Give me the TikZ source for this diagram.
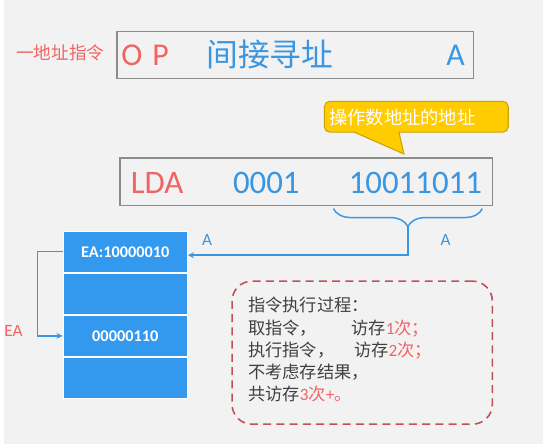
\documentclass[tikz,border=0pt]{standalone}
\usepackage{fontspec}
\setmainfont{Carlito}
\newfontfamily\cjk{Noto Sans CJK SC}
\usetikzlibrary{positioning,decorations.pathreplacing}
\definecolor{hred}{HTML}{F06464}
\definecolor{hblue}{HTML}{3A96E0}
\definecolor{mblue}{HTML}{3399EE}
\definecolor{hgray}{HTML}{404040}
\definecolor{bgray}{HTML}{8C8C8C}
\definecolor{dred}{HTML}{C0505A}
\definecolor{hyel}{HTML}{FFCC00}
\tikzset{
  instr/.style={draw=bgray,line width=1pt,minimum height=35.5pt},
  cell/.style={fill=mblue,draw=white,line width=1pt,minimum width=93.75pt,minimum height=30.75pt,
    text=white,font=\fontsize{12.3}{14}\selectfont\bfseries},
  link/.style={hblue,line width=1pt,->},
  big/.style={font=\fontsize{24.8}{28}\selectfont},
}
\begin{document}
\begin{tikzpicture}[>=stealth,x=0.75pt,y=-0.75pt]
	\fill[gray!10] (0,0) rectangle (543,447);
	% one-address instruction
	\node[hred,font=\fontsize{13.3}{16}\selectfont] (kind) at (57,53) {\cjk 一地址指令};
	\node[instr,minimum width=269pt] (fmt) at (293.5,55.5) {};
	\node[hred,font=\fontsize{24}{28}\selectfont] (op) at (142.5,56) {O\hspace{2pt} P};
	\node[hblue,font=\fontsize{24}{28}\selectfont] (mode) at (268,55) {\cjk 间接寻址};
	\node[hblue,font=\fontsize{24}{28}\selectfont] (fa) at (455,56) {A};
	% callout
	\filldraw[fill=hyel,draw=hyel!80!black,line width=0.8pt] (353,133) [rounded corners=4pt] -- (323,133) -- (323,102)
		-- (508,102) -- (508,133) [sharp corners] -- (398,133) -- (403,155) -- cycle;
	\node[white,font=\fontsize{13.8}{16}\selectfont] (tip) at (401.5,118) {\cjk 操作数地址的地址};
	% LDA instruction
	\node[instr,minimum width=281pt,minimum height=36pt] (lda) at (304.5,183) {};
	\node[hred,big] (opc) at (154.5,184) {LDA};
	\node[hblue,big] (reg) at (264.5,184) {0001};
	\node[hblue,big] (addr) at (414.5,184) {10011011};
	\draw[hblue,line width=1.1pt,decorate,decoration={brace,mirror,amplitude=13.5pt}] (332,210) -- (482,210);
	\coordinate (btip) at (407,228);
	\node[hblue,font=\fontsize{13}{15}\selectfont] (la) at (445,242) {A};
	% memory
	\node[cell] (m1) at (122.5,253.5) {EA:10000010};
	\node[cell,below=0pt of m1] (m2) {};
	\node[cell,below=0pt of m2] (m3) {00000110};
	\node[cell,below=0pt of m3] (m4) {};
	\draw[link] (btip) |- ([yshift=-2.5pt]m1.east);
	\node[hblue,font=\fontsize{13}{15}\selectfont] (ra) at (205,242) {A};
	\draw[link] (m1.west) -- ++(-25,0) |- (m3.west);
	\node[hred,font=\fontsize{13}{15}\selectfont] (ea) at (10,333) {EA};
	% note
	\node[draw=dred,line width=1.2pt,dash pattern=on 6pt off 4pt,rounded corners=15pt,
		minimum width=196.5pt,minimum height=108pt] (note) at (361,355) {};
	\node[hgray,anchor=west,align=left,inner sep=0pt,font=\fontsize{13}{16.7}\selectfont] (steps) at (246,352)
		{{\cjk 指令执行过程：}\\
		\makebox[78pt][l]{\cjk 取指令，}{\cjk 访存}\textcolor{hred}{1{\cjk 次；}}\\
		\makebox[80pt][l]{\cjk 执行指令，}{\cjk 访存}\textcolor{hred}{2{\cjk 次；}}\\
		{\cjk 不考虑存结果，}\\
		{\cjk 共访存}\textcolor{hred}{3{\cjk 次}+{\cjk 。}}};
\end{tikzpicture}
\end{document}
